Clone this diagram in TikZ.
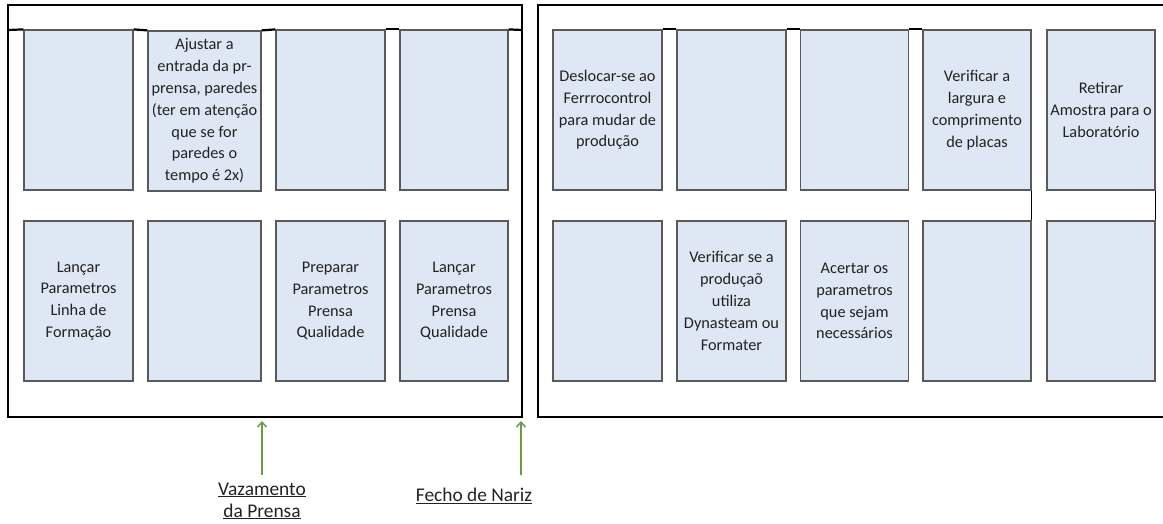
\documentclass[tikz,border=0pt]{standalone}
\usepackage{fontspec}
\setmainfont{Carlito}
\usetikzlibrary{arrows.meta}
\definecolor{boxfill}{HTML}{DDE8F4}
\definecolor{boxline}{HTML}{5A5A5A}
\definecolor{arrgreen}{HTML}{6A9C45}
\definecolor{txt}{HTML}{222222}
\begin{document}
\begin{tikzpicture}[x=1pt,y=-1pt,
  box/.style={draw=boxline, fill=boxfill, line width=1.2pt, minimum width=108pt,
    minimum height=160pt, inner sep=0pt, align=center, text=txt,
    font=\fontsize{16.3}{21.8}\selectfont},
  frame/.style={draw=black, line width=2pt},
  bridge/.style={draw=black, line width=2.2pt},
  garrow/.style={draw=arrgreen, line width=1.5pt, -{Straight Barb[length=5pt,width=9pt]}},
  lbl/.style={align=center, inner sep=0pt, text=txt, font=\fontsize{19.4}{22}\selectfont}]
\useasboundingbox (0,0) rectangle (1163,524);
% frames
\draw[frame] (8,5) rectangle (522,417);
\draw[frame] (1175,5) -- (538,5) -- (538,417) -- (1175,417);
\coordinate (FLtl) at (8,30);
\coordinate (FLtr) at (522,30);
% left frame boxes
\node[box, minimum width=109pt] (L1) at (78.5,110) {};
\node[box, minimum width=113pt] (L2) at (204.5,111) {Ajustar a\\entrada da pr-\\prensa, paredes\\(ter em atenção\\que se for\\paredes o\\tempo é 2x)};
\node[box, minimum width=109pt] (L3) at (330.5,110) {};
\node[box] (L4) at (454,110) {};
\node[box, minimum width=109pt] (L5) at (78.5,301) {Lançar\\Parametros\\Linha de\\Formação};
\node[box, minimum width=113pt] (L6) at (204.5,301) {};
\node[box, minimum width=109pt] (L7) at (330.5,301) {Preparar\\Parametros\\Prensa\\Qualidade};
\node[box] (L8) at (454,301) {Lançar\\Parametros\\Prensa\\Qualidade};
% right frame boxes
\node[box, minimum width=109pt] (R1) at (607.5,110) {Deslocar-se ao\\Ferrrocontrol\\para mudar de\\produção};
\node[box, minimum width=109pt] (R2) at (731.5,110) {};
\node[box] (R3) at (854.5,110) {};
\node[box] (R4) at (977,110) {Verificar a\\largura e\\comprimento\\de placas};
\node[box] (R5) at (1101,110) {Retirar\\Amostra para o\\Laboratório};
\node[box, minimum width=109pt] (R6) at (607.5,301) {};
\node[box, minimum width=109pt] (R7) at (731.5,301) {Verificar se a\\produçaõ\\utiliza\\Dynasteam ou\\Formater};
\node[box] (R8) at (854.5,301) {Acertar os\\parametros\\que sejam\\necessários};
\node[box] (R9) at (977,301) {};
\node[box] (R10) at (1101,301) {};
% black bridges at the top of the gaps
\draw[bridge] (FLtl) -- (L1.north west);
\draw[bridge] (L1.north east) -- (L2.north west);
\draw[bridge] (L2.north east) -- (L3.north west);
\draw[bridge] (L3.north east) -- (L4.north west);
\draw[bridge] (L4.north east) -- (FLtr);
\draw[bridge] (R1.north east) -- (R2.north west);
\draw[bridge] (R2.north east) -- (R3.north west);
\draw[bridge] (R3.north east) -- (R4.north west);
\draw[bridge, line width=1.6pt] (R4.south east) -- (R9.north east);
\draw[bridge, line width=1.6pt] (R5.south east) -- (R10.north east);
% labels and arrows
\node[lbl] (va) at (262,501) {\underline{Vazamento}\\\underline{da Prensa}};
\node[lbl] (fn) at (474,496) {\underline{Fecho de Nariz}};
\coordinate (vaBase) at (262,475);
\coordinate (vaTip) at (262,421);
\coordinate (fnBase) at (521,475);
\coordinate (fnTip) at (521,421);
\draw[garrow] (vaBase) -- (vaTip);
\draw[garrow] (fnBase) -- (fnTip);
\end{tikzpicture}
\end{document}
